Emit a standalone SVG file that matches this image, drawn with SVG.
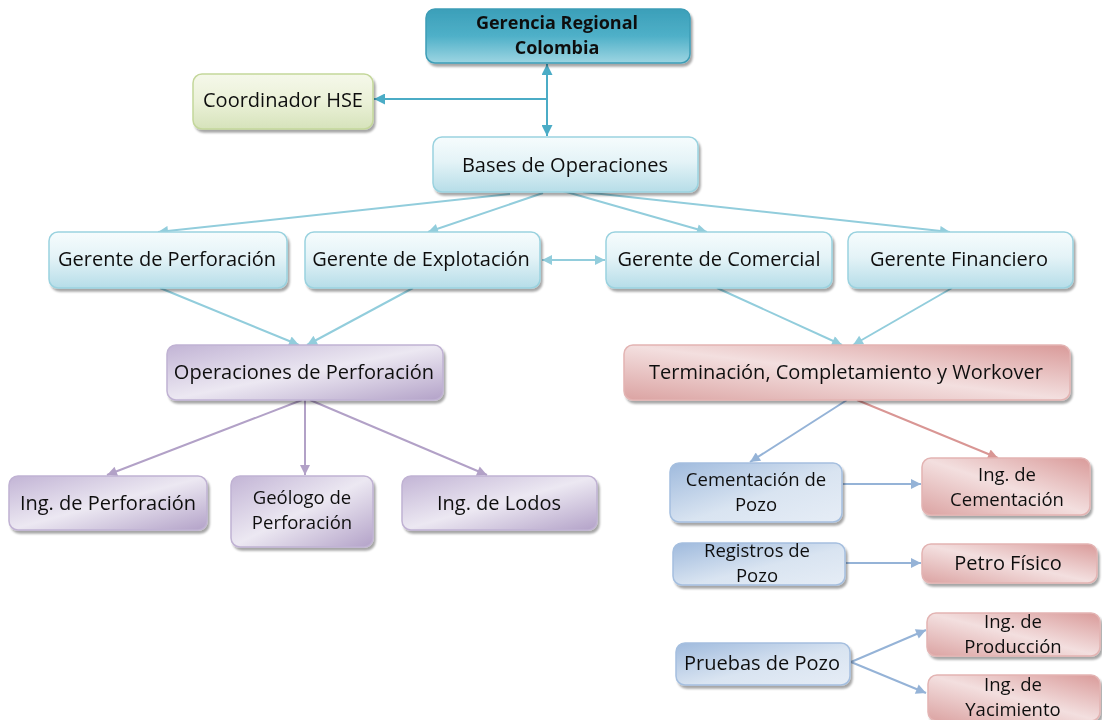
<svg xmlns="http://www.w3.org/2000/svg" width="1102" height="720" viewBox="0 0 1102 720">
<defs>
<style>
.t{font-family:"Open Sans",Lato,"Liberation Sans",sans-serif;font-size:20px;fill:#111;text-anchor:middle}
.t2{font-family:"Open Sans",Lato,"Liberation Sans",sans-serif;font-size:18.5px;fill:#111;text-anchor:middle}
.tb{font-family:"Open Sans",Lato,"Liberation Sans",sans-serif;font-size:18px;font-weight:bold;fill:#111;text-anchor:middle}
.box{filter:url(#sh)}
.c{fill:none;stroke-width:2}
</style>
<filter id="sh" x="-10%" y="-20%" width="125%" height="150%">
<feDropShadow dx="2" dy="3" stdDeviation="1.2" flood-color="#000" flood-opacity="0.35"/>
</filter>
<linearGradient id="gTeal" x1="0" y1="0" x2="0" y2="1">
<stop offset="0" stop-color="#3b9fb9"/><stop offset="0.5" stop-color="#4fb0c8"/><stop offset="1" stop-color="#9dd5e2"/>
</linearGradient>
<linearGradient id="gLb" x1="0" y1="0" x2="0" y2="1">
<stop offset="0" stop-color="#f6fcfd"/><stop offset="0.45" stop-color="#e4f3f7"/><stop offset="1" stop-color="#b6dde8"/>
</linearGradient>
<linearGradient id="gGr" x1="0" y1="0" x2="0" y2="1">
<stop offset="0" stop-color="#f5f8ea"/><stop offset="0.5" stop-color="#ebf1d8"/><stop offset="1" stop-color="#d6e3bb"/>
</linearGradient>
<linearGradient id="gPu" x1="0" y1="0" x2="1" y2="1">
<stop offset="0" stop-color="#c2b4d5"/><stop offset="0.5" stop-color="#ece8f2"/><stop offset="1" stop-color="#b3a2c8"/>
</linearGradient>
<linearGradient id="gPk" x1="1" y1="0" x2="0" y2="1">
<stop offset="0" stop-color="#d99a99"/><stop offset="0.5" stop-color="#f3dfdf"/><stop offset="1" stop-color="#dba3a2"/>
</linearGradient>
<linearGradient id="gBl" x1="0" y1="0" x2="1" y2="1">
<stop offset="0" stop-color="#9fbadd"/><stop offset="0.55" stop-color="#d9e4f1"/><stop offset="1" stop-color="#e6edf6"/>
</linearGradient>
<marker id="aT" viewBox="0 0 10 10" refX="10" refY="5" markerWidth="13" markerHeight="11" markerUnits="userSpaceOnUse" orient="auto-start-reverse"><path d="M0,0 L10,5 L0,10 z" fill="#4bacc6"/></marker>
<marker id="aL" viewBox="0 0 10 10" refX="10" refY="5" markerWidth="13" markerHeight="10" markerUnits="userSpaceOnUse" orient="auto-start-reverse"><path d="M0,0 L10,5 L0,10 z" fill="#92cddc"/></marker>
<marker id="aP" viewBox="0 0 10 10" refX="10" refY="5" markerWidth="13" markerHeight="10" markerUnits="userSpaceOnUse" orient="auto"><path d="M0,0 L10,5 L0,10 z" fill="#b2a1c7"/></marker>
<marker id="aK" viewBox="0 0 10 10" refX="10" refY="5" markerWidth="13" markerHeight="10" markerUnits="userSpaceOnUse" orient="auto"><path d="M0,0 L10,5 L0,10 z" fill="#d99694"/></marker>
<marker id="aB" viewBox="0 0 10 10" refX="10" refY="5" markerWidth="13" markerHeight="10" markerUnits="userSpaceOnUse" orient="auto"><path d="M0,0 L10,5 L0,10 z" fill="#95b3d7"/></marker>
</defs>
<rect width="1102" height="720" fill="#fff"/>

<g id="connectors">
<path class="c" stroke="#4bacc6" stroke-width="2.5" d="M547,64 L547,136" marker-start="url(#aT)" marker-end="url(#aT)"/>
<path class="c" stroke="#4bacc6" stroke-width="2.5" d="M547,99 L374,99" marker-end="url(#aT)"/>
<path class="c" stroke="#92cddc" d="M510,194 L158,232" marker-end="url(#aL)"/>
<path class="c" stroke="#92cddc" d="M543,193 L428,232" marker-end="url(#aL)"/>
<path class="c" stroke="#92cddc" d="M563,191 L707,232" marker-end="url(#aL)"/>
<path class="c" stroke="#92cddc" d="M583,192 L950,232" marker-end="url(#aL)"/>
<path class="c" stroke="#92cddc" d="M542,260 L605,260" marker-start="url(#aL)" marker-end="url(#aL)"/>
<path class="c" stroke="#92cddc" d="M160,288 L299,345" marker-end="url(#aL)"/>
<path class="c" stroke="#92cddc" d="M413,288 L307,345" marker-end="url(#aL)"/>
<path class="c" stroke="#92cddc" d="M717,288 L842,345" marker-end="url(#aL)"/>
<path class="c" stroke="#92cddc" d="M952,288 L853,345" marker-end="url(#aL)"/>
<path class="c" stroke="#b2a1c7" d="M302,400 L107,475" marker-end="url(#aP)"/>
<path class="c" stroke="#b2a1c7" d="M305,400 L305,475" marker-end="url(#aP)"/>
<path class="c" stroke="#b2a1c7" d="M310,400 L487,475" marker-end="url(#aP)"/>
<path class="c" stroke="#95b3d7" d="M847,400 L750,462" marker-end="url(#aB)"/>
<path class="c" stroke="#d99694" d="M857,400 L998,458" marker-end="url(#aK)"/>
<path class="c" stroke="#95b3d7" d="M843,484 L921,484" marker-end="url(#aB)"/>
<path class="c" stroke="#95b3d7" d="M846,563 L921,563" marker-end="url(#aB)"/>
<path class="c" stroke="#95b3d7" d="M851,662 L926,630" marker-end="url(#aB)"/>
<path class="c" stroke="#95b3d7" d="M851,662 L926,693" marker-end="url(#aB)"/>
</g>

<g id="n-gerencia" class="box"><rect x="426" y="9" width="264" height="54" rx="9" fill="url(#gTeal)" stroke="#3d9db6" stroke-width="1.5"/>
<text class="tb" x="557" y="29"><tspan x="557">Gerencia Regional</tspan><tspan x="557" dy="24.6">Colombia</tspan></text></g>

<g id="n-hse" class="box"><rect x="193" y="74" width="180" height="55" rx="9" fill="url(#gGr)" stroke="#c4d79b" stroke-width="1.5"/>
<text class="t" x="283" y="107">Coordinador HSE</text></g>

<g id="n-bases" class="box"><rect x="433" y="137" width="265" height="55" rx="9" fill="url(#gLb)" stroke="#9ad2df" stroke-width="1.5"/>
<text class="t" x="565" y="172">Bases de Operaciones</text></g>

<g id="n-gperf" class="box"><rect x="49" y="232" width="238" height="56" rx="9" fill="url(#gLb)" stroke="#9ad2df" stroke-width="1.5"/>
<text class="t" x="167" y="266">Gerente de Perforación</text></g>

<g id="n-gexpl" class="box"><rect x="305" y="232" width="235" height="56" rx="9" fill="url(#gLb)" stroke="#9ad2df" stroke-width="1.5"/>
<text class="t" x="421" y="266">Gerente de Explotación</text></g>

<g id="n-gcom" class="box"><rect x="606" y="232" width="226" height="56" rx="9" fill="url(#gLb)" stroke="#9ad2df" stroke-width="1.5"/>
<text class="t" x="719" y="266">Gerente de Comercial</text></g>

<g id="n-gfin" class="box"><rect x="848" y="232" width="225" height="56" rx="9" fill="url(#gLb)" stroke="#9ad2df" stroke-width="1.5"/>
<text class="t" x="959" y="266">Gerente Financiero</text></g>

<g id="n-operf" class="box"><rect x="167" y="345" width="276" height="55" rx="9" fill="url(#gPu)" stroke="#c0b2d3" stroke-width="1.5"/>
<text class="t" x="304" y="379">Operaciones de Perforación</text></g>

<g id="n-term" class="box"><rect x="624" y="345" width="446" height="55" rx="9" fill="url(#gPk)" stroke="#e3b4b3" stroke-width="1.5"/>
<text class="t" x="846" y="379">Terminación, Completamiento y Workover</text></g>

<g id="n-ingperf" class="box"><rect x="9" y="476" width="198" height="54" rx="9" fill="url(#gPu)" stroke="#c0b2d3" stroke-width="1.5"/>
<text class="t" x="108" y="510">Ing. de Perforación</text></g>

<g id="n-geol" class="box"><rect x="231" y="476" width="142" height="71" rx="9" fill="url(#gPu)" stroke="#c0b2d3" stroke-width="1.5"/>
<text class="t2" x="302" y="504"><tspan x="302">Geólogo de</tspan><tspan x="302" dy="25.3">Perforación</tspan></text></g>

<g id="n-lodos" class="box"><rect x="402" y="476" width="195" height="54" rx="9" fill="url(#gPu)" stroke="#c0b2d3" stroke-width="1.5"/>
<text class="t" x="499" y="510">Ing. de Lodos</text></g>

<g id="n-cempozo" class="box"><rect x="670" y="463" width="172" height="59" rx="9" fill="url(#gBl)" stroke="#a5bfdf" stroke-width="1.5"/>
<text class="t2" x="756" y="486"><tspan x="756">Cementación de</tspan><tspan x="756" dy="25.3">Pozo</tspan></text></g>

<g id="n-ingcem" class="box"><rect x="922" y="458" width="168" height="57" rx="9" fill="url(#gPk)" stroke="#e3b4b3" stroke-width="1.5"/>
<text class="t2" x="1007" y="481"><tspan x="1007">Ing. de</tspan><tspan x="1007" dy="25.3">Cementación</tspan></text></g>

<g id="n-regpozo" class="box"><rect x="673" y="543" width="172" height="42" rx="9" fill="url(#gBl)" stroke="#a5bfdf" stroke-width="1.5"/>
<text class="t2" x="757" y="557"><tspan x="757">Registros de</tspan><tspan x="757" dy="25.3">Pozo</tspan></text></g>

<g id="n-petro" class="box"><rect x="922" y="544" width="175" height="39" rx="9" fill="url(#gPk)" stroke="#e3b4b3" stroke-width="1.5"/>
<text class="t" x="1008" y="570">Petro Físico</text></g>

<g id="n-pruebas" class="box"><rect x="676" y="643" width="174" height="42" rx="9" fill="url(#gBl)" stroke="#a5bfdf" stroke-width="1.5"/>
<text class="t" x="762" y="670">Pruebas de Pozo</text></g>

<g id="n-ingprod" class="box"><rect x="927" y="613" width="173" height="43" rx="9" fill="url(#gPk)" stroke="#e3b4b3" stroke-width="1.5"/>
<text class="t2" x="1013" y="628"><tspan x="1013">Ing. de</tspan><tspan x="1013" dy="25.3">Producción</tspan></text></g>

<g id="n-ingyac" class="box"><rect x="928" y="675" width="172" height="46" rx="9" fill="url(#gPk)" stroke="#e3b4b3" stroke-width="1.5"/>
<text class="t2" x="1013" y="691"><tspan x="1013">Ing. de</tspan><tspan x="1013" dy="25.3">Yacimiento</tspan></text></g>
</svg>
